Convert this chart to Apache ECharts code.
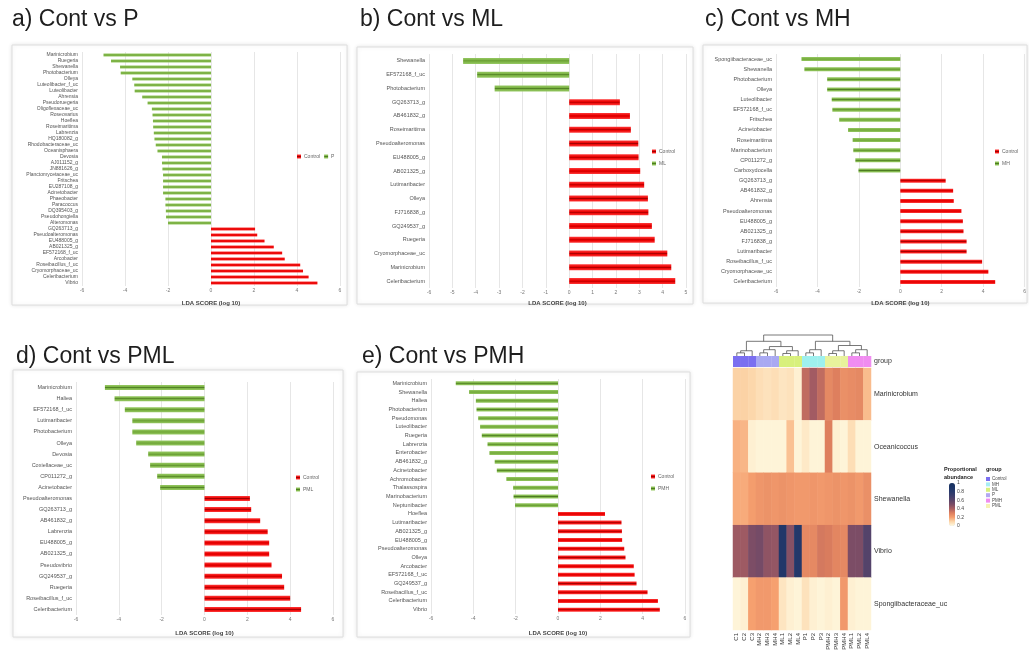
<!DOCTYPE html>
<html>
<head>
<meta charset="utf-8">
<script src="https://cdn.jsdelivr.net/npm/echarts@6/dist/echarts.min.js"></script>
<style>
  html, body { margin: 0; padding: 0; background: #fff; }
  #chart { width: 1029px; height: 654px; }
</style>
</head>
<body>
<div id="chart"></div>
<script>
// ---------- LEfSe LDA scores (log10) per comparison ----------
const namesA = ['Marinicrobium','Ruegeria','Shewanella','Photobacterium','Olleya','Luteolibacter_f_uc','Luteolibacter','Ahrensia','Pseudoruegeria','Oligoflexaceae_uc','Roseovarius','Hoeflea','Roseimaritima','Labrenzia','HQ180082_g','Rhodobacteraceae_uc','Oceanisphaera','Devosia','AJ011152_g','JN881626_g','Planctomycetaceae_uc','Fritschea','EU287108_g','Acinetobacter','Phaeobacter','Paracoccus','DQ395403_g','Pseudohongiella','Alteromonas','GQ263713_g','Pseudoalteromonas','EU488005_g','AB021325_g','EF572168_f_uc','Arcobacter','Roseibacillus_f_uc','Cryomorphaceae_uc','Celeribacterium','Vibrio'];
const ldaA = [-5.0,-4.65,-4.23,-4.2,-3.66,-3.57,-3.55,-3.2,-2.95,-2.75,-2.72,-2.7,-2.69,-2.66,-2.63,-2.57,-2.49,-2.28,-2.28,-2.26,-2.23,-2.23,-2.23,-2.23,-2.12,-2.12,-2.1,-2.09,-2.0,2.05,2.15,2.49,2.92,3.31,3.43,4.15,4.28,4.54,4.95];

const namesB = ['Shewanella','EF572168_f_uc','Photobacterium','GQ263713_g','AB461832_g','Roseimaritima','Pseudoalteromonas','EU488005_g','AB021325_g','Lutimaribacter','Olleya','FJ716838_g','GQ249537_g','Ruegeria','Cryomorphaceae_uc','Marinicrobium','Celeribacterium'];
const ldaB = [-4.54,-3.94,-3.19,2.17,2.6,2.64,2.96,2.97,3.04,3.21,3.37,3.39,3.54,3.66,4.2,4.37,4.54];

const namesC = ['Spongiibacteraceae_uc','Shewanella','Photobacterium','Olleya','Luteolibacter','EF572168_f_uc','Fritschea','Acinetobacter','Roseimaritima','Marinobacterium','CP011272_g','Carboxydocella','GQ263713_g','AB461832_g','Ahrensia','Pseudoalteromonas','EU488005_g','AB021325_g','FJ716838_g','Lutimaribacter','Roseibacillus_f_uc','Cryomorphaceae_uc','Celeribacterium'];
const ldaC = [-4.77,-4.63,-3.53,-3.53,-3.31,-3.28,-2.95,-2.52,-2.3,-2.27,-2.17,-2.02,2.19,2.55,2.58,2.95,3.02,3.05,3.2,3.2,3.95,4.25,4.58];

const namesD = ['Marinicrobium','Haliea','EF572168_f_uc','Lutimaribacter','Photobacterium','Olleya','Devosia','Coxiellaceae_uc','CP011272_g','Acinetobacter','Pseudoalteromonas','GQ263713_g','AB461832_g','Labrenzia','EU488005_g','AB021325_g','Pseudovibrio','GQ249537_g','Ruegeria','Roseibacillus_f_uc','Celeribacterium'];
const ldaD = [-4.65,-4.2,-3.72,-3.37,-3.37,-3.19,-2.63,-2.54,-2.21,-2.07,2.12,2.18,2.6,2.95,3.02,3.02,3.13,3.62,3.72,4.0,4.51];

const namesE = ['Marinicrobium','Shewanella','Haliea','Photobacterium','Pseudomonas','Luteolibacter','Ruegeria','Labrenzia','Enterobacter','AB461832_g','Acinetobacter','Achromobacter','Thalassospira','Marinobacterium','Neptunibacter','Hoeflea','Lutimaribacter','AB021325_g','EU488005_g','Pseudoalteromonas','Olleya','Arcobacter','EF572168_f_uc','GQ249537_g','Roseibacillus_f_uc','Celeribacterium','Vibrio'];
const ldaE = [-4.83,-4.2,-3.88,-3.85,-3.77,-3.68,-3.6,-3.33,-3.24,-2.99,-2.89,-2.44,-2.12,-2.1,-2.03,2.22,3.0,3.02,3.03,3.13,3.19,3.58,3.62,3.71,4.23,4.72,4.81];

const panelTitles = ['a) Cont vs P','b) Cont vs ML','c) Cont vs MH','d) Cont vs PML','e) Cont vs PMH'];
const panelGroups = ['P','ML','MH','PML','PMH'];
const axisTitle = 'LDA SCORE (log 10)';

// ---------- heatmap of proportional abundance ----------
const hmSamples = ['C1','C2','C3','MH2','MH3','MH4','ML1','ML2','ML4','P1','P2','P3','PMH2','PMH3','PMH4','PML1','PML2','PML4'];
const hmTaxa = ['Marinicrobium','Oceanicoccus','Shewanella','Vibrio','Spongiibacteraceae_uc'];
const hmMarinicrobium = [0.11,0.11,0.10,0.08,0.07,0.08,0.06,0.07,0.03,0.36,0.42,0.36,0.27,0.30,0.25,0.26,0.27,0.15];
const hmOceanicoccus  = [0.17,0.16,0.03,0.02,0.02,0.02,0.02,0.14,0.02,0.05,0.02,0.02,0.30,0.03,0.02,0.08,0.02,0.02];
const hmShewanella    = [0.18,0.18,0.21,0.23,0.24,0.23,0.24,0.23,0.22,0.22,0.23,0.22,0.23,0.24,0.23,0.24,0.22,0.25];
const hmVibrio        = [0.43,0.43,0.50,0.52,0.46,0.45,0.86,0.48,0.85,0.27,0.27,0.32,0.31,0.28,0.27,0.50,0.50,0.62];
const hmSpongii       = [0.02,0.03,0.20,0.22,0.22,0.20,0.06,0.03,0.02,0.07,0.03,0.02,0.03,0.02,0.22,0.03,0.02,0.02];
const hmRows = [hmMarinicrobium, hmOceanicoccus, hmShewanella, hmVibrio, hmSpongii];

// clustering of samples: [left node, right node, merge height]; leaves are 0..17
const hmMerges = [
  [0,1,0.15],[18,2,0.25],
  [3,4,0.15],[20,5,0.30],
  [6,7,0.12],[22,8,0.25],
  [21,23,0.45],[19,24,0.70],
  [9,10,0.15],[26,11,0.30],
  [12,13,0.12],[28,14,0.25],
  [15,16,0.15],[30,17,0.30],
  [29,31,0.50],[27,32,0.70],
  [25,33,1.00]
];
const stripColors = ['#7b6ff0','#7b6ff0','#7b6ff0','#a9a9f2','#a9a9f2','#a9a9f2','#d8f07c','#d8f07c','#d8f07c','#9ef0ee','#9ef0ee','#9ef0ee','#e8f29c','#e8f29c','#e8f29c','#f08cf0','#f08cf0','#f08cf0'];
const groupNames = ['Control','MH','ML','P','PMH','PML'];
const groupColors = ['#7b6ff0','#a8eef4','#d8f07c','#b3a8f2','#f08cf0','#f6f2b4'];
const abundanceTicks = [1, 0.8, 0.6, 0.4, 0.2, 0];
const abundanceRamp = ['#fffbe3','#fcd7ab','#f6a06f','#de7f5e','#ac5f62','#7c4d66','#5a4469','#3e3f6c','#283a6c','#1d3567','#16305f'];

// ---------- layout ----------
const FONT = 'Liberation Sans, Arial, sans-serif';
const panelLayout = [
  { titlePos:[12,8],   box:[12,45,335,260],  grid:{left:82,top:52,width:258,height:234},  axis:[-6,6,2], barWidth:3, labelSize:5,   nameGap:14, legend:{left:297,top:154,orient:'horizontal'} },
  { titlePos:[360,8],  box:[357,47,336,257], grid:{left:429,top:54,width:257,height:234}, axis:[-6,5,1], barWidth:6, labelSize:5.5, nameGap:12, legend:{left:652,top:149,orient:'vertical'} },
  { titlePos:[705,8],  box:[703,45,324,258], grid:{left:776,top:54,width:255,height:233}, axis:[-6,6,2], barWidth:4, labelSize:5.5, nameGap:13, legend:{left:995,top:149,orient:'vertical'} },
  { titlePos:[16,345], box:[13,370,330,267], grid:{left:76,top:382,width:257,height:233}, axis:[-6,6,2], barWidth:5, labelSize:5.5, nameGap:15, legend:{left:296,top:475,orient:'vertical'} },
  { titlePos:[362,345],box:[357,372,333,265],grid:{left:431,top:379,width:254,height:235},axis:[-6,6,2], barWidth:4, labelSize:5.5, nameGap:16, legend:{left:651,top:474,orient:'vertical'} }
];
const panelNames = [namesA, namesB, namesC, namesD, namesE];
const panelLda = [ldaA, ldaB, ldaC, ldaD, ldaE];

const stripe = (edge, mid, dark) => new echarts.graphic.LinearGradient(0, 0, 0, 1, [
  {offset:0, color:edge},{offset:0.42, color:mid},{offset:0.5, color:dark},{offset:0.6, color:mid},{offset:1, color:edge}
]);
const redFill = stripe('#ff3b3b', '#e80000', '#a00000');
const greenFill = stripe('#96c963', '#78ae3f', '#4d7c22');

const titles = [], grids = [], xAxes = [], yAxes = [], series = [], legends = [], graphics = [];

panelLayout.forEach((L, i) => {
  const names = panelNames[i], lda = panelLda[i];
  graphics.push({ type:'rect', z:-10, shape:{x:L.box[0], y:L.box[1], width:L.box[2], height:L.box[3]},
    style:{fill:'#fff', stroke:'#dedede', lineWidth:1, shadowBlur:4, shadowColor:'rgba(0,0,0,0.10)'} });
  titles.push({ text:panelTitles[i], left:L.titlePos[0], top:L.titlePos[1], padding:0,
    textStyle:{fontSize:23, fontWeight:'normal', color:'#1e1e1e', fontFamily:FONT} });
  grids.push(Object.assign({}, L.grid));
  xAxes.push({ type:'value', gridIndex:i, min:L.axis[0], max:L.axis[1], interval:L.axis[2],
    axisLine:{show:false}, axisTick:{show:false},
    splitLine:{show:true, lineStyle:{color:'#e6e6e6', width:1}},
    axisLabel:{fontSize:5, color:'#777', margin:2, showMinLabel:true, showMaxLabel:true, fontFamily:FONT},
    name:axisTitle, nameLocation:'middle', nameGap:L.nameGap,
    nameTextStyle:{fontSize:6, fontWeight:'bold', color:'#444', fontFamily:FONT} });
  yAxes.push({ type:'category', gridIndex:i, data:names, inverse:true,
    axisLine:{show:false}, axisTick:{show:false}, splitLine:{show:false},
    axisLabel:{fontSize:L.labelSize, color:'#555', margin:4, interval:0, fontFamily:FONT} });
  series.push({ type:'bar', name:'Control', xAxisIndex:i, yAxisIndex:i, barWidth:L.barWidth, barGap:'-100%',
    data:lda.map(v => v > 0 ? v : '-'), itemStyle:{color:redFill}, silent:true });
  series.push({ type:'bar', name:panelGroups[i], xAxisIndex:i, yAxisIndex:i, barWidth:L.barWidth, barGap:'-100%',
    data:lda.map(v => v < 0 ? v : '-'), itemStyle:{color:greenFill}, silent:true });
  legends.push({ data:['Control', panelGroups[i]], left:L.legend.left, top:L.legend.top, orient:L.legend.orient,
    icon:'rect', itemWidth:4, itemHeight:4, itemGap:L.legend.orient === 'vertical' ? 7 : 4, padding:0,
    textStyle:{fontSize:5, color:'#666', fontFamily:FONT, padding:[0,0,0,-2]}, selectedMode:false });
});

// ---------- heatmap block ----------
const HM = { left:733, width:138 };
const gDen = grids.length;
grids.push({ left:HM.left, width:HM.width, top:335, height:21 });
grids.push({ left:HM.left, width:HM.width, top:356, height:11 });
grids.push({ left:HM.left, width:HM.width, top:368, height:262 });

// dendrogram axes
xAxes.push({ type:'value', gridIndex:gDen, min:-0.5, max:hmSamples.length - 0.5, show:false });
yAxes.push({ type:'value', gridIndex:gDen, min:0, max:1, show:false });
// group strip axes
xAxes.push({ type:'category', gridIndex:gDen + 1, data:hmSamples, show:false });
yAxes.push({ type:'category', gridIndex:gDen + 1, data:['group'], position:'right',
  axisLine:{show:false}, axisTick:{show:false}, axisLabel:{fontSize:7, color:'#333', margin:3, fontFamily:FONT} });
// heatmap axes
xAxes.push({ type:'category', gridIndex:gDen + 2, data:hmSamples, position:'bottom',
  axisLine:{show:false}, axisTick:{show:false}, splitLine:{show:false},
  axisLabel:{rotate:90, fontSize:6, color:'#333', margin:3, interval:0, fontFamily:FONT} });
yAxes.push({ type:'category', gridIndex:gDen + 2, data:hmTaxa, inverse:true, position:'right',
  axisLine:{show:false}, axisTick:{show:false}, splitLine:{show:false},
  axisLabel:{fontSize:7, color:'#333', margin:3, fontFamily:FONT} });

// dendrogram links derived from the merge table
const nodeX = hmSamples.map((s, i) => i), nodeH = hmSamples.map(() => 0);
const denData = hmMerges.map(([a, b, h]) => {
  const item = [nodeX[a], nodeH[a], nodeX[b], nodeH[b], h];
  nodeX.push((nodeX[a] + nodeX[b]) / 2);
  nodeH.push(h);
  return item;
});
series.push({ type:'custom', xAxisIndex:gDen, yAxisIndex:gDen, silent:true, data:denData,
  encode:{x:[0,2], y:[1,3,4]},
  renderItem: (params, api) => {
    const xl = api.value(0), hl = api.value(1), xr = api.value(2), hr = api.value(3), h = api.value(4);
    return { type:'polyline', shape:{points:[api.coord([xl,hl]), api.coord([xl,h]), api.coord([xr,h]), api.coord([xr,hr])]},
      style:{stroke:'#555', lineWidth:0.8, fill:null} };
  } });

// sample group strip
series.push({ type:'custom', xAxisIndex:gDen + 1, yAxisIndex:gDen + 1, silent:true,
  data:hmSamples.map((s, i) => [i, 0]),
  renderItem: (params, api) => {
    const i = api.value(0), c = api.coord([i, 0]), s = api.size([1, 1]);
    return { type:'rect', shape:{x:c[0] - s[0] / 2, y:c[1] - s[1] / 2, width:s[0] + 0.3, height:s[1]},
      style:{fill:stripColors[i]} };
  } });

// abundance cells
const hmData = [];
hmRows.forEach((row, r) => row.forEach((v, c) => hmData.push([c, r, v])));
const heatIndex = series.length;
series.push({ type:'heatmap', xAxisIndex:gDen + 2, yAxisIndex:gDen + 2, data:hmData, silent:true, progressive:0 });

// legends of the heatmap
const VM = { left:949, top:483, w:6, h:43 };
graphics.push({ type:'text', x:944, y:466, style:{text:'Proportional', fontSize:5.5, fontWeight:'bold', fill:'#222', fontFamily:FONT} });
graphics.push({ type:'text', x:944, y:474, style:{text:'abundance', fontSize:5.5, fontWeight:'bold', fill:'#222', fontFamily:FONT} });
abundanceTicks.forEach(t => {
  graphics.push({ type:'text', x:VM.left + VM.w + 2, y:VM.top + (1 - t) * VM.h, style:{text:String(t), fontSize:5, fill:'#444', verticalAlign:'middle', fontFamily:FONT} });
});
graphics.push({ type:'text', x:986, y:466, style:{text:'group', fontSize:5.5, fontWeight:'bold', fill:'#222', fontFamily:FONT} });
groupNames.forEach((g, k) => {
  const y = 477 + k * 5.4;
  graphics.push({ type:'rect', shape:{x:986, y:y, width:4, height:4}, style:{fill:groupColors[k]} });
  graphics.push({ type:'text', x:992, y:y + 2, style:{text:g, fontSize:4.5, fill:'#444', verticalAlign:'middle', fontFamily:FONT} });
});

const option = {
  backgroundColor:'#fff',
  animation:false,
  textStyle:{fontFamily:FONT},
  title:titles,
  grid:grids,
  xAxis:xAxes,
  yAxis:yAxes,
  legend:legends,
  visualMap:{ type:'continuous', seriesIndex:heatIndex, dimension:2, min:0, max:1, calculable:false,
    left:VM.left, top:VM.top, itemWidth:VM.w, itemHeight:VM.h, padding:0, text:null, showLabel:false,
    inRange:{color:abundanceRamp} },
  graphic:{ elements:graphics },
  series:series
};

const chart = echarts.init(document.getElementById('chart'), null, { renderer:'canvas' });
chart.setOption(option);
</script>
</body>
</html>
